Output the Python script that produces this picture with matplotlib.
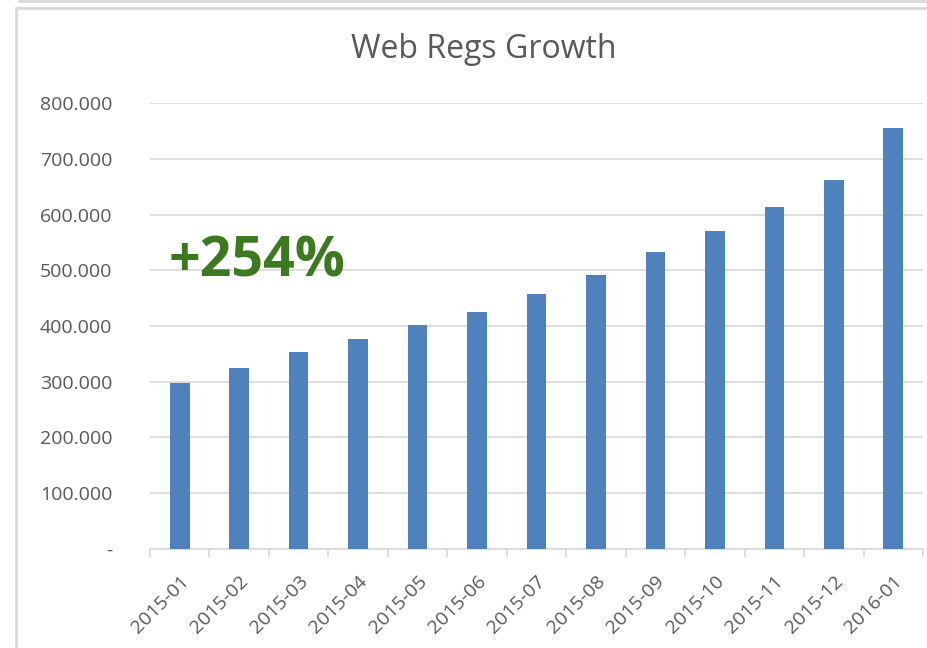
import matplotlib.pyplot as plt
from matplotlib.lines import Line2D
from matplotlib.patches import Rectangle

months = ['2015-01', '2015-02', '2015-03', '2015-04', '2015-05', '2015-06', '2015-07',
          '2015-08', '2015-09', '2015-10', '2015-11', '2015-12', '2016-01']
regs = [298, 325, 353, 377, 402, 425, 457, 492, 533, 570, 613, 662, 755]
y_ticks = [0, 100, 200, 300, 400, 500, 600, 700, 800]
growth_label = '+254%'

plt.rcParams['font.family'] = ['Open Sans', 'DejaVu Sans']

fig = plt.figure(figsize=(9.28, 6.48), dpi=100)
ax = fig.add_axes([0.1616, 0.1528, 0.833, 0.6882])

x = list(range(len(months)))
ax.bar(x, regs, width=0.33, color='#4f81bd', zorder=3)

ax.set_xlim(-0.5, len(months) - 0.5)
ax.set_ylim(0, 800)
ax.set_yticks(y_ticks)
ax.set_yticklabels(['-' if v == 0 else f'{v:.3f}' for v in y_ticks])
ax.grid(axis='y', color='#d9d9d9', linewidth=1.2, zorder=0)

# x ticks sit between the categories, labels at the bar centres
ax.set_xticks([i - 0.5 for i in range(len(months) + 1)])
ax.set_xticklabels([])
ax.set_xticks(x, minor=True)
ax.set_xticklabels(months, minor=True, rotation=45, ha='right', rotation_mode='anchor')
ax.tick_params(axis='x', which='major', length=6, width=1.2, color='#d9d9d9')
ax.tick_params(axis='x', which='minor', length=0, pad=17, labelsize=14, labelcolor='#595959')
ax.tick_params(axis='y', length=0, pad=27, labelsize=14, labelcolor='#595959')

for s in ['top', 'right', 'left']:
    ax.spines[s].set_visible(False)
ax.spines['bottom'].set_color('#d9d9d9')
ax.spines['bottom'].set_linewidth(1.2)

fig.text(484 / 928, 1 - 50 / 648, 'Web Regs Growth', ha='center', va='center',
         fontsize=23, color='#595959')

ax.text(1.3, 514, growth_label, ha='center', va='center', fontsize=40,
        fontweight='bold', color='#3b7a1f', zorder=4)

# chart frame like the spreadsheet chart box
fig.add_artist(Rectangle((16 / 928, -0.1), 1.2, 1 - 8 / 648 + 0.1, transform=fig.transFigure,
                         fill=False, edgecolor='#d9d9d9', linewidth=2))
fig.add_artist(Line2D([19 / 928, 1], [1 - 1 / 648, 1 - 1 / 648], transform=fig.transFigure,
                      color='#d9d9d9', linewidth=2))

fig.savefig('out.png', dpi=100)
